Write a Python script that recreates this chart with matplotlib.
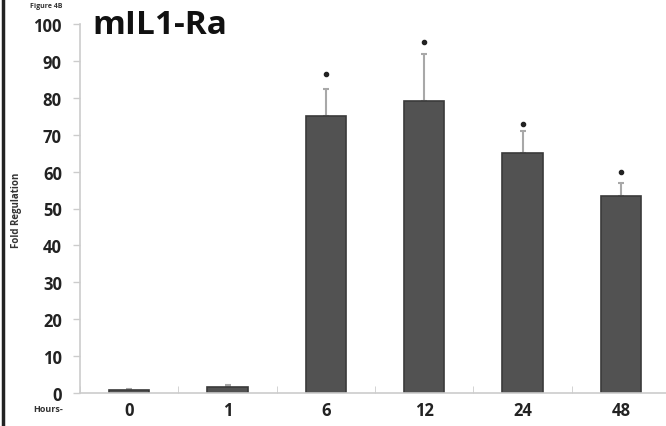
import numpy as np
import matplotlib
matplotlib.use("Agg")
from matplotlib import pyplot as plt

hours = ["0", "1", "6", "12", "24", "48"]
fold = [0.8, 1.5, 75, 79, 65, 53.5]
err_up = [0.4, 0.6, 7.5, 13, 6, 3.5]
star_y = [None, None, 86.5, 95, 73, 60]

plt.rcParams['font.family'] = ['Open Sans', 'DejaVu Sans']

fig = plt.figure(figsize=(6.66, 4.27), dpi=100)
ax = fig.add_axes([80 / 666, 1 - 394 / 427, 590 / 666, 369 / 427])

x = np.arange(len(hours))
ax.bar(x, fold, width=0.41, color='#525252', edgecolor='#3a3a3a', linewidth=1.2, zorder=2)
ax.errorbar(x, fold, yerr=[np.zeros(len(fold)), err_up], fmt='none',
            ecolor='#a8a8a8', elinewidth=1.5, capsize=2, capthick=1.5, zorder=1)
for xi, sy in zip(x, star_y):
    if sy is not None:
        ax.plot(xi, sy, 'o', ms=3, color='#222222')

ax.set_xlim(-0.5, 5.5)
ax.set_ylim(0, 100)
ax.set_yticks(range(0, 101, 10))
ax.set_xticks(x)
ax.set_xticklabels(hours)
ax.set_xticks(np.arange(-0.5, 5.6, 1), minor=True)
ax.tick_params(axis='x', which='major', length=0, pad=6, labelsize=12)
ax.tick_params(axis='x', which='minor', length=5, color='#cccccc', direction='in')
ax.tick_params(axis='y', length=5, color='#cccccc', width=1, pad=8, labelsize=12)
for lab in ax.get_xticklabels() + ax.get_yticklabels():
    lab.set_fontweight('bold')
    lab.set_color('#222222')

for side in ['top', 'right']:
    ax.spines[side].set_visible(False)
for side in ['left', 'bottom']:
    ax.spines[side].set_color('#cccccc')
    ax.spines[side].set_linewidth(1.2)

fig.text(92 / 666, 1 - 25 / 427, "mIL1-Ra", fontsize=24, fontweight='bold',
         va='center', ha='left', color='#111111')
fig.text(30 / 666, 1 - 6 / 427, "Figure 4B", fontsize=5, fontweight='bold',
         va='center', ha='left', color='#333333')
fig.text(17 / 666, 1 - 210 / 427, "Fold Regulation", fontsize=7, fontweight='bold',
         rotation=90, va='center', ha='center', color='#333333')
fig.text(33 / 666, 1 - 410 / 427, "Hours-", fontsize=6.5, fontweight='bold',
         va='center', ha='left', color='#333333')

fig.add_artist(plt.Line2D([3 / 666, 3 / 666], [0, 1], color='#222222', lw=2.5,
                          transform=fig.transFigure))

fig.savefig("out.png", dpi=100)
